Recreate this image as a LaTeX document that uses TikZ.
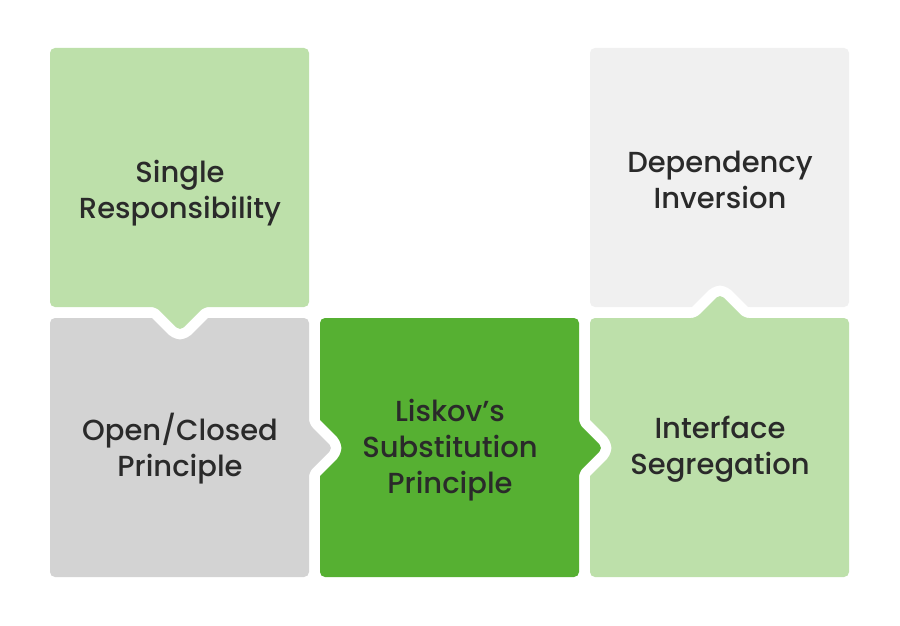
\documentclass[tikz,border=0pt]{standalone}
\usepackage{fontspec}
\newfontfamily\popm{Poppins Medium}
\definecolor{lgreen}{HTML}{BDE0AA}
\definecolor{mgray}{HTML}{D3D3D3}
\definecolor{dgreen}{HTML}{56B032}
\definecolor{lgray}{HTML}{F0F0F0}
\definecolor{txt}{HTML}{2A2A2A}
\tikzset{
  tile/.style={rounded corners=5pt, draw=white, line width=21pt, line join=round},
  tilefill/.style={rounded corners=5pt},
  lbl/.style={align=center, text=txt, font=\popm\fontsize{29}{36}\selectfont, inner sep=0pt}
}
\begin{document}
\begin{tikzpicture}[x=1pt,y=-1pt]
\useasboundingbox[fill=white] (0,0) rectangle (900,626);
% Dependency Inversion
\fill[lgray, rounded corners=5pt] (590,48) rectangle (849,307);
% Interface Segregation with up arrow
\def\ifp{(590,318) -- (696,318) -- (720,294) -- (744,318) -- (849,318) -- (849,577) -- (590,577) -- cycle}
\path[tile] \ifp;
\fill[lgreen, tilefill] \ifp;
% Liskov with right arrow
\def\lsp{(320,318) -- (579,318) -- (579,424) -- (603,448) -- (579,472) -- (579,577) -- (320,577) -- cycle}
\path[tile] \lsp;
\fill[dgreen, tilefill] \lsp;
% Open/Closed with right arrow
\def\ocp{(50,318) -- (309,318) -- (309,424) -- (333,448) -- (309,472) -- (309,577) -- (50,577) -- cycle}
\path[tile] \ocp;
\fill[mgray, tilefill] \ocp;
% Single Responsibility with down arrow
\def\srp{(50,48) -- (309,48) -- (309,307) -- (204,307) -- (180,331) -- (156,307) -- (50,307) -- cycle}
\path[tile] \srp;
\fill[lgreen, tilefill] \srp;
% labels
\node[lbl] (single) at (180,193) {Single\\Responsibility};
\node[lbl] (open) at (180,449) {Open/Closed\\Principle};
\node[lbl] (liskov) at (450,450) {Liskov’s\\Substitution\\Principle};
\node[lbl] (iface) at (720,449) {Interface\\Segregation};
\node[lbl] (dep) at (720,180) {Dependency\\Inversion};
\end{tikzpicture}
\end{document}
